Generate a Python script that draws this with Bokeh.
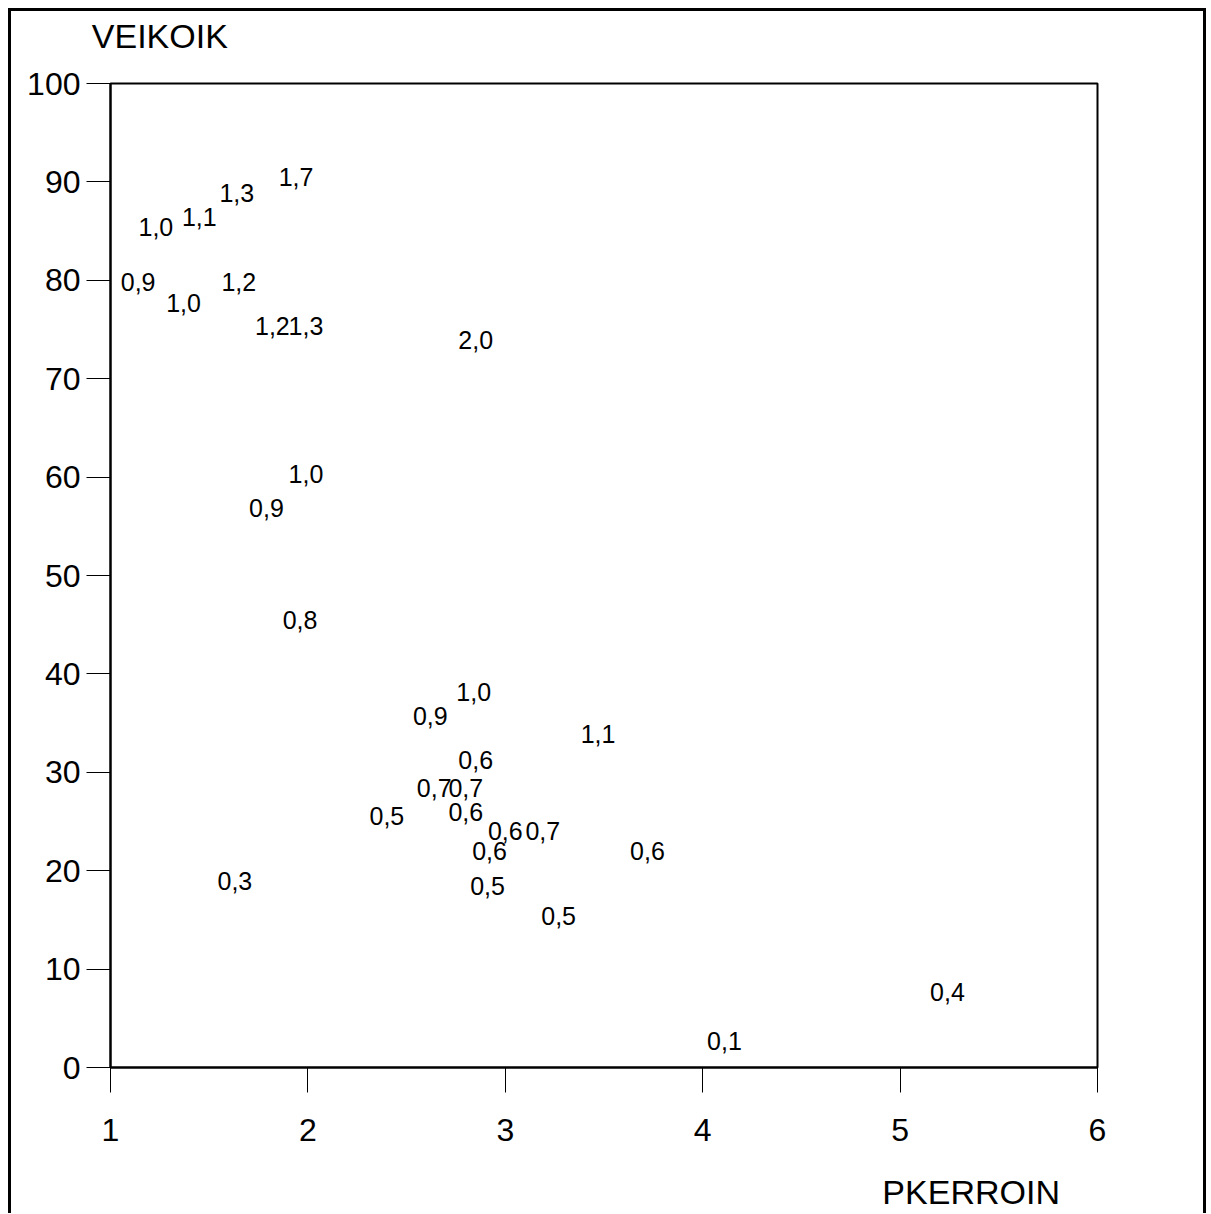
from bokeh.plotting import figure
from bokeh.models import Range1d, FixedTicker, LinearAxis
from bokeh.core.properties import value
from bokeh.embed import file_html
from bokeh.resources import INLINE

# PKERROIN (x), VEIKOIK (y) and the label shown at each point
pkerroin = [1.94, 1.64, 1.45, 1.23, 1.14, 1.37, 1.65, 1.82, 1.99, 2.85,
            1.99, 1.79, 1.96, 2.84, 2.62, 3.47, 2.85, 2.64, 2.80, 2.40,
            2.80, 3.00, 3.19, 2.92, 3.72, 2.91, 3.27, 1.63, 4.11, 5.24]
veikoik = [90.5, 88.9, 86.4, 85.4, 79.8, 77.7, 79.8, 75.4, 75.4, 73.9,
           60.3, 56.9, 45.5, 38.2, 35.7, 33.9, 31.2, 28.4, 28.4, 25.6,
           26.0, 24.0, 24.0, 22.0, 22.0, 18.4, 15.4, 19.0, 2.7, 7.7]
labels = ["1,7", "1,3", "1,1", "1,0", "0,9", "1,0", "1,2", "1,2", "1,3", "2,0",
          "1,0", "0,9", "0,8", "1,0", "0,9", "1,1", "0,6", "0,7", "0,7", "0,5",
          "0,6", "0,6", "0,7", "0,6", "0,6", "0,5", "0,5", "0,3", "0,1", "0,4"]

x_ticks = [1, 2, 3, 4, 5, 6]
y_ticks = [0, 10, 20, 30, 40, 50, 60, 70, 80, 90, 100]
x_name = "PKERROIN"
y_name = "VEIKOIK"

FONT = "Liberation Sans"

p = figure(width=1210, height=1213, x_range=Range1d(1, 6), y_range=Range1d(0, 100),
           output_backend="svg", toolbar_location=None,
           min_border_left=110, min_border_right=113, min_border_top=83,
           min_border_bottom=145)
p.title.visible = False

# outer frame of the whole picture (left, top and right edges), drawn as the
# element background that shows through the transparent border area
p.border_fill_color = None
p.background_fill_color = "white"
p.styles = {
    "background-color": "white",
    "background-image": "linear-gradient(black, black), linear-gradient(black, black), linear-gradient(black, black)",
    "background-size": "3px 1230px, 1198px 3px, 3px 1230px",
    "background-position": "8px 8px, 8px 8px, 1203px 8px",
    "background-repeat": "no-repeat",
}

p.xgrid.visible = False
p.ygrid.visible = False
p.outline_line_color = "black"
p.outline_line_width = 2
p.outline_line_alpha = 1.0

for ax, ticks, out in ((p.xaxis, x_ticks, 25), (p.yaxis, y_ticks, 24)):
    ax.ticker = FixedTicker(ticks=ticks)
    ax.major_label_text_font = FONT
    ax.major_label_text_font_size = "32px"
    ax.major_label_text_color = "black"
    ax.major_tick_out = out
    ax.major_tick_in = 0
    ax.minor_tick_out = 0
    ax.minor_tick_in = 0
    ax.axis_line_width = 2
    ax.axis_line_color = "black"
    ax.major_tick_line_width = 1
    ax.major_tick_line_color = "black"

p.xaxis.major_label_standoff = 26
p.yaxis.major_label_standoff = 6


def name_axis(where, pos, text, standoff):
    """An axis without line or ticks that only shows one variable name."""
    ax = LinearAxis(ticker=FixedTicker(ticks=[pos]),
                    major_label_overrides={pos: text},
                    axis_line_color=None, major_tick_line_color=None,
                    minor_tick_line_color=None, major_tick_out=0, major_tick_in=0,
                    minor_tick_out=0, minor_tick_in=0,
                    major_label_standoff=standoff,
                    major_label_text_font=FONT, major_label_text_font_size="34px",
                    major_label_text_color="black")
    p.add_layout(ax, where)


# y name above the top-left corner, x name below the right end
name_axis("above", 1.25, y_name, 29)
name_axis("below", 5.36, x_name, 29)

p.text(x=pkerroin, y=veikoik, text=labels, text_align="center",
       text_baseline="middle", text_font=value(FONT), text_font_size="25px",
       text_color="black")

open("out.html", "w").write(file_html(p, INLINE))
